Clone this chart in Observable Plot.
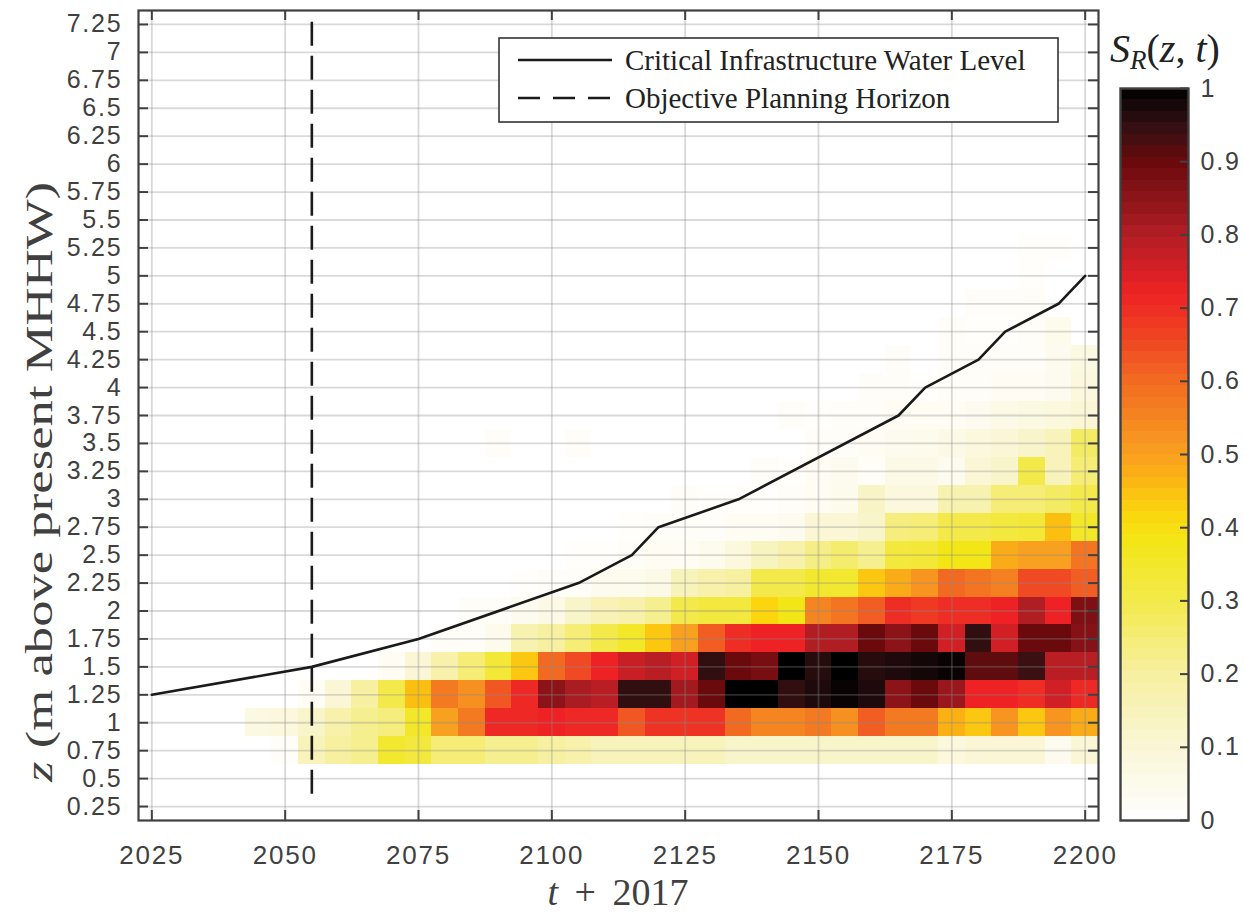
<!DOCTYPE html>
<html>
<head>
<meta charset="utf-8">
<script src="https://cdn.jsdelivr.net/npm/d3@7"></script>
<script src="https://cdn.jsdelivr.net/npm/@observablehq/plot@0.6"></script>
<style>
  html, body { margin: 0; padding: 0; background: #fff; }
  #wrap { position: relative; width: 1244px; height: 913px; overflow: hidden; }
  #wrap svg { position: absolute; top: 0; max-width: none; }
</style>
</head>
<body>
<div id="wrap"></div>
<script>
// ---------- DATA ----------
// column centres (t + 2017), 5-year bins
const years = [2045,2050,2055,2060,2065,2070,2075,2080,2085,2090,2095,2100,2105,2110,2115,2120,
               2125,2130,2135,2140,2145,2150,2155,2160,2165,2170,2175,2180,2185,2190,2195,2200];
// row centres (m above present MHHW), 0.25 m bins
const depths = [0.75,1.0,1.25,1.5,1.75,2.0,2.25,2.5,2.75,3.0,3.25,3.5,3.75,4.0,4.25,4.5,4.75,5.0,5.25];

// S_R(z,t) per row, one value per column of `years`
const r075 = [0,0.02,0.15,0.2,0.22,0.34,0.32,0.25,0.25,0.22, 0.22,0.2,0.18,0.15,0.15,0.15,0.15,0.15,0.12,0.12, 0.12,0.12,0.12,0.12,0.12,0.12,0.08,0.1,0.1,0.1, 0.04,0.1];
const r100 = [0.07,0.08,0.12,0.18,0.22,0.24,0.35,0.5,0.57,0.71, 0.71,0.72,0.71,0.71,0.63,0.69,0.69,0.69,0.6,0.55, 0.55,0.57,0.53,0.62,0.57,0.57,0.47,0.44,0.52,0.44, 0.52,0.48];
const r125 = [0,0,0.03,0.1,0.2,0.3,0.45,0.57,0.53,0.63, 0.71,0.85,0.81,0.79,0.95,0.95,0.82,0.9,1.0,1.0, 0.95,0.97,0.99,0.97,0.85,0.9,0.83,0.72,0.72,0.7, 0.76,0.71];
const r150 = [0,0,0,0,0,0.03,0.1,0.18,0.25,0.33, 0.44,0.6,0.65,0.72,0.77,0.79,0.76,0.95,0.9,0.88, 1.0,0.96,1.0,0.96,0.97,0.98,0.99,0.91,0.91,0.94, 0.79,0.79];
const r175 = [0,0,0,0,0,0,0,0.02,0.02,0.05, 0.17,0.2,0.25,0.3,0.35,0.44,0.5,0.62,0.7,0.72, 0.72,0.8,0.8,0.9,0.85,0.9,0.76,0.95,0.76,0.9, 0.9,0.86];
const r200 = [0,0,0,0,0,0,0,0,0.02,0.02, 0.04,0.06,0.12,0.16,0.18,0.22,0.3,0.32,0.32,0.42, 0.38,0.55,0.58,0.62,0.7,0.68,0.7,0.7,0.72,0.8, 0.72,0.87];
const r225 = [0,0,0,0,0,0,0,0,0,0, 0.01,0.02,0.02,0.04,0.05,0.06,0.15,0.18,0.2,0.3, 0.3,0.34,0.34,0.44,0.48,0.52,0.6,0.58,0.56,0.65, 0.65,0.62];
const r250 = [0,0,0,0,0,0,0,0,0,0, 0,0,0.01,0.01,0.02,0.03,0.03,0.05,0.08,0.14, 0.18,0.23,0.26,0.22,0.32,0.33,0.38,0.38,0.48,0.5, 0.5,0.58];
const r275 = [0,0,0,0,0,0,0,0,0,0, 0,0,0,0,0.01,0.02,0.02,0.02,0.03,0.03, 0.04,0.1,0.1,0.12,0.24,0.25,0.3,0.3,0.32,0.33, 0.45,0.35];
const r300 = [0,0,0,0,0,0,0,0,0,0, 0,0,0,0,0,0,0.02,0.01,0.01,0.01, 0.02,0.03,0.05,0.13,0.08,0.08,0.17,0.17,0.25,0.25, 0.27,0.3];
const r325 = [0,0,0,0,0,0,0,0,0,0, 0,0,0,0,0,0,0,0,0,0.02, 0.01,0.03,0.04,0.02,0.06,0.06,0.04,0.1,0.12,0.3, 0.15,0.25];
const r350 = [0,0,0,0,0,0,0,0,0,0.02, 0,0,0.02,0,0,0,0,0,0,0, 0,0.02,0.02,0.03,0.04,0.05,0.06,0.08,0.1,0.12, 0.15,0.27];
const r375 = [0,0,0,0,0,0,0,0,0,0, 0,0,0,0,0,0,0,0,0,0, 0.02,0.01,0.02,0.02,0.03,0.03,0.03,0.04,0.06,0.07, 0.08,0.1];
const r400 = [0,0,0,0,0,0,0,0,0,0, 0,0,0,0,0,0,0,0,0,0, 0,0,0,0.02,0.02,0.01,0.02,0.02,0.03,0.03, 0.04,0.08];
const r425 = [0,0,0,0,0,0,0,0,0,0, 0,0,0,0,0,0,0,0,0,0, 0,0,0,0,0.02,0,0.02,0.02,0.02,0.02, 0.04,0.07];
const r450 = [0,0,0,0,0,0,0,0,0,0, 0,0,0,0,0,0,0,0,0,0, 0,0,0,0,0,0,0.02,0.01,0.01,0.02, 0.05,0];
const r475 = [0,0,0,0,0,0,0,0,0,0, 0,0,0,0,0,0,0,0,0,0, 0,0,0,0,0,0,0,0.02,0.02,0.02, 0,0];
const r500 = [0,0,0,0,0,0,0,0,0,0, 0,0,0,0,0,0,0,0,0,0, 0,0,0,0,0,0,0,0,0,0.01, 0,0];
const r525 = [0,0,0,0,0,0,0,0,0,0, 0,0,0,0,0,0,0,0,0,0, 0,0,0,0,0,0,0,0,0,0.01, 0.01,0];

// Critical infrastructure water level
const levelYears  = [2025,2055,2075,2105,2115,2120,2135,2165,2170,2180,2185,2195,2200];
const levelHeight = [1.25,1.5,1.75,2.25,2.5,2.75,3.0,3.75,4.0,4.25,4.5,4.75,5.0];
// Objective planning horizon
const horizonYear = [2055];
const horizonSpan = [7.27, 0.27];

// ticks
const xTicks = [2025,2050,2075,2100,2125,2150,2175,2200];
const yTicks = [0.25,0.5,0.75,1,1.25,1.5,1.75,2,2.25,2.5,2.75,3,3.25,3.5,3.75,4,4.25,4.5,4.75,5,5.25,5.5,5.75,6,6.25,6.5,6.75,7,7.25];
const cbTicks = [0,0.1,0.2,0.3,0.4,0.5,0.6,0.7,0.8,0.9,1];

const legendLabels = ["Critical Infrastructure Water Level", "Objective Planning Horizon"];

// ---------- BUILD ----------
const rowValues = [r075,r100,r125,r150,r175,r200,r225,r250,r275,r300,r325,r350,r375,r400,r425,r450,r475,r500,r525];
const cells = depths.flatMap((z, i) => years.map((t, j) => ({t, z, v: rowValues[i][j]}))).filter(d => d.v > 0);
const levelLine = levelYears.map((t, i) => ({t, z: levelHeight[i]}));

const stops = [
  [0,"#ffffff"],[0.1,"#faf6d6"],[0.2,"#f6f0a0"],[0.3,"#f3e94a"],[0.38,"#f3e617"],[0.42,"#fbd60f"],
  [0.47,"#fbb014"],[0.5,"#f8a01f"],[0.6,"#f26a22"],[0.65,"#ef4a23"],[0.72,"#ee2224"],[0.76,"#d01f25"],
  [0.8,"#b01e24"],[0.85,"#8c1418"],[0.9,"#6a0a0c"],[0.94,"#3a1012"],[0.97,"#1e0a0c"],[1,"#000000"]
];
const cmapScale = d3.scaleLinear().domain(stops.map(s => s[0])).range(stops.map(s => s[1]))
  .interpolate(d3.interpolateRgb).clamp(true);
const cmap = t => cmapScale(t);

const INK = "#404040";
const W = 1244, H = 913;
const mL = 138, mR = 146, mT = 10, mB = 93;
const frameW = W - mL - mR, frameH = H - mT - mB;
const tickLen = 10;
const sans = "'Liberation Sans', Arial, sans-serif";

const main = Plot.plot({
  width: W, height: H,
  marginLeft: mL, marginRight: mR, marginTop: mT, marginBottom: mB,
  style: {background: "transparent", fontFamily: sans, letterSpacing: "1.8px"},
  x: {domain: [2022.5, 2202.5]},
  y: {domain: [0.125, 7.375]},
  color: {type: "linear", domain: [0, 1], interpolate: cmap},
  marks: [
    Plot.rect(cells, {x1: d => d.t - 2.5, x2: d => d.t + 2.5, y1: d => d.z - 0.125, y2: d => d.z + 0.125,
      fill: "v", shapeRendering: "crispEdges"}),
    Plot.ruleX(xTicks, {x: d => d, stroke: "#8a8a8a", strokeOpacity: 0.32, strokeWidth: 1.8}),
    Plot.ruleY(yTicks, {y: d => d, stroke: "#8a8a8a", strokeOpacity: 0.32, strokeWidth: 1.8}),
    Plot.line(levelLine, {x: "t", y: "z", stroke: "#1a1a1a", strokeWidth: 2.6}),
    Plot.ruleX(horizonYear, {x: d => d, y1: () => horizonSpan[0], y2: () => horizonSpan[1],
      stroke: "#1a1a1a", strokeWidth: 2.6, strokeDasharray: "24,10"}),
    Plot.ruleX(xTicks, {x: d => d, insetTop: frameH - tickLen, stroke: INK, strokeWidth: 2}),
    Plot.ruleX(xTicks, {x: d => d, insetBottom: frameH - tickLen, stroke: INK, strokeWidth: 2}),
    Plot.ruleY(yTicks, {y: d => d, insetRight: frameW - tickLen, stroke: INK, strokeWidth: 2}),
    Plot.ruleY(yTicks, {y: d => d, insetLeft: frameW - tickLen, stroke: INK, strokeWidth: 2}),
    Plot.frame({stroke: INK, strokeWidth: 2.2}),
    Plot.axisX({ticks: xTicks, tickSize: 0, tickPadding: 25, tickFormat: d => String(d),
      fontSize: 26, fill: INK, label: null}),
    Plot.axisY({ticks: yTicks, tickSize: 0, tickPadding: 16, tickFormat: d => String(d),
      fontSize: 25, fill: INK, label: null})
  ]
});

// colour bar (separate plot sharing the same colour scale)
const cbLevels = d3.range(64);
const cbLeft = 1095;
const cb = Plot.plot({
  width: 149, height: H,
  marginLeft: 25, marginRight: 56, marginTop: 88, marginBottom: 93,
  style: {background: "transparent", fontFamily: sans, letterSpacing: "1.8px"},
  x: {domain: [0, 1], axis: null},
  y: {domain: [0, 1]},
  color: {type: "linear", domain: [0, 1], interpolate: cmap},
  marks: [
    Plot.rect(cbLevels, {x1: () => 0, x2: () => 1, y1: i => i / 64, y2: i => (i + 1) / 64,
      fill: i => (i + 0.5) / 64, shapeRendering: "crispEdges"}),
    Plot.ruleY(cbTicks, {y: d => d, insetLeft: 68 - 8, stroke: INK, strokeWidth: 2}),
    Plot.frame({stroke: INK, strokeWidth: 2.4}),
    Plot.axisY({anchor: "right", ticks: cbTicks, tickSize: 0, tickPadding: 12, tickFormat: d => String(d),
      fontSize: 25, fill: INK, label: null})
  ]
});

const wrap = document.getElementById("wrap");
wrap.appendChild(main);
cb.style.left = cbLeft + "px";
wrap.appendChild(cb);

// ---------- annotations (labels, legend, colour bar title) ----------
const svg = d3.select(main);
const serif = "'Liberation Serif', 'Times New Roman', serif";

// x label
const xl = svg.append("text").attr("x", 618).attr("y", 905).attr("text-anchor", "middle")
  .attr("font-family", serif).attr("font-size", 38).attr("fill", INK)
  .attr("word-spacing", "7px").style("letter-spacing", "0px");
xl.append("tspan").attr("font-style", "italic").text("t");
xl.append("tspan").text(" + 2017");

// y label
const yl = svg.append("text").attr("transform", "translate(52,482) rotate(-90)").attr("text-anchor", "middle")
  .attr("font-family", serif).attr("font-size", 38).attr("fill", INK).style("letter-spacing", "0px")
  .attr("textLength", 600).attr("lengthAdjust", "spacingAndGlyphs");
yl.append("tspan").attr("font-style", "italic").text("z");
yl.append("tspan").text(" (m above present MHHW)");

// legend
const lg = svg.append("g").style("letter-spacing", "0px").attr("text-anchor", "start");
lg.append("rect").attr("x", 499).attr("y", 38).attr("width", 559).attr("height", 84)
  .attr("fill", "#fff").attr("stroke", "#333").attr("stroke-width", 1.6);
lg.append("line").attr("x1", 518).attr("x2", 612).attr("y1", 60).attr("y2", 60)
  .attr("stroke", "#1a1a1a").attr("stroke-width", 2.4);
lg.append("line").attr("x1", 518).attr("x2", 612).attr("y1", 98).attr("y2", 98)
  .attr("stroke", "#1a1a1a").attr("stroke-width", 2.4).attr("stroke-dasharray", "22,13");
lg.append("text").attr("x", 625).attr("y", 70).attr("text-anchor", "start").attr("font-family", serif)
  .attr("font-size", 29).attr("fill", "#222").text(legendLabels[0]);
lg.append("text").attr("x", 625).attr("y", 108).attr("text-anchor", "start").attr("font-family", serif)
  .attr("font-size", 29).attr("fill", "#222").text(legendLabels[1]);

// colour bar title S_R(z,t)
const ct = svg.append("text").attr("x", 1110).attr("y", 62).attr("text-anchor", "start")
  .attr("font-family", serif).attr("font-size", 40).attr("fill", "#222").style("letter-spacing", "0px");
ct.append("tspan").attr("font-style", "italic").text("S");
ct.append("tspan").attr("font-style", "italic").attr("font-size", 27).attr("dy", 7).text("R");
ct.append("tspan").attr("dy", -7).text("(");
ct.append("tspan").attr("font-style", "italic").text("z");
ct.append("tspan").text(", ");
ct.append("tspan").attr("font-style", "italic").text("t");
ct.append("tspan").text(")");
</script>
</body>
</html>
